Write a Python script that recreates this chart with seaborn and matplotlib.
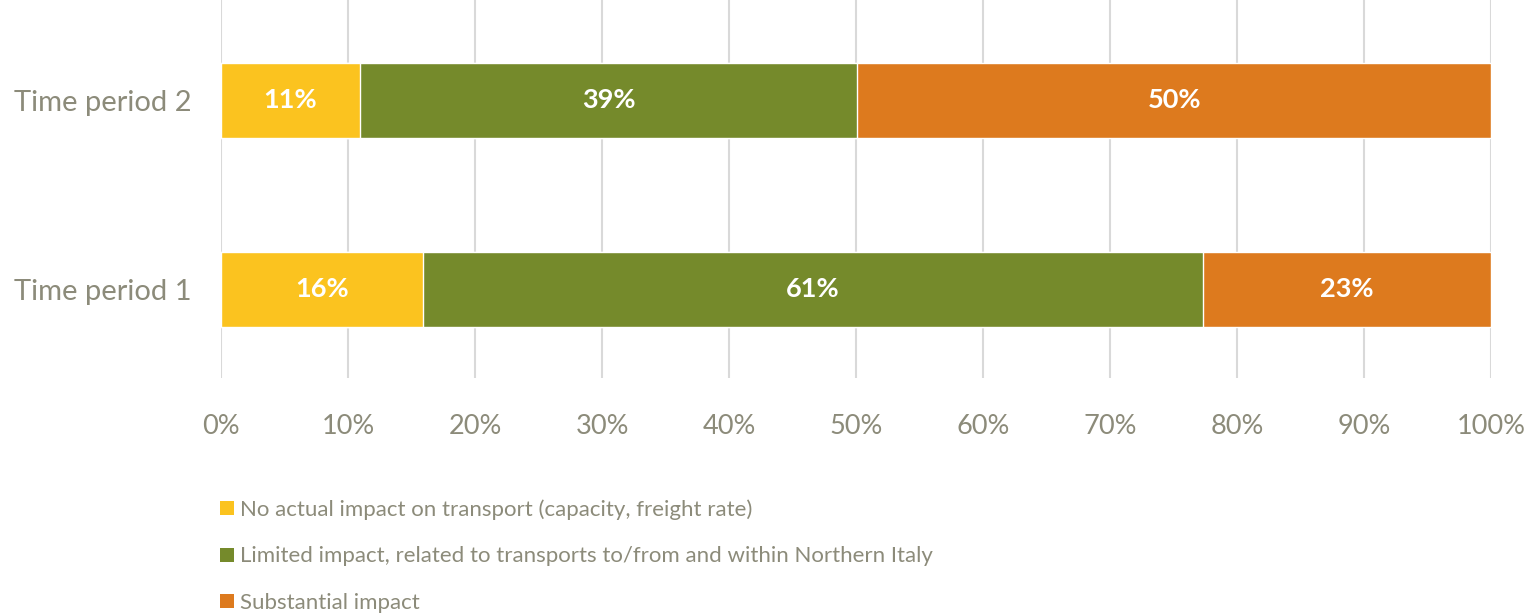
import matplotlib
matplotlib.use("Agg")
import matplotlib.pyplot as plt
from matplotlib.patches import Patch
from matplotlib.ticker import PercentFormatter
import numpy as np
import pandas as pd
import seaborn as sns

periods = ["Time period 2", "Time period 1"]
no_impact = [10.9, 15.9]
limited_impact = [39.2, 61.4]
substantial_impact = [49.9, 22.7]

series_names = [
    "No actual impact on transport (capacity, freight rate)",
    "Limited impact, related to transports to/from and within Northern Italy",
    "Substantial impact",
]
colors = ["#FBC31F", "#758A2B", "#DD7A1E"]
text_grey = "#8C8B7A"

sns.set_theme(style="white")
plt.rcParams["font.family"] = ["Lato", "DejaVu Sans"]


def main():
    df = pd.DataFrame({
        "period": periods,
        "no": no_impact,
        "limited": limited_impact,
        "substantial": substantial_impact,
    })
    # cumulative ends, drawn back to front so each segment shows
    df["c1"] = df["no"]
    df["c2"] = df["no"] + df["limited"]
    df["c3"] = df["c2"] + df["substantial"]

    fig = plt.figure(figsize=(15.32, 6.14), dpi=100)
    ax = fig.add_axes([0.1443, 0.384, 0.829, 0.616])

    for col, color in zip(["c3", "c2", "c1"], colors[::-1]):
        sns.barplot(data=df, x=col, y="period", order=periods, color=color,
                    orient="h", width=0.395, saturation=1, ax=ax, zorder=2)

    # segment labels
    for i, row in df.iterrows():
        starts = [0, row["c1"], row["c2"]]
        vals = [row["no"], row["limited"], row["substantial"]]
        for s, v in zip(starts, vals):
            ax.text(s + v / 2, i, f"{round(v):.0f}%", ha="center", va="center",
                    color="white", fontsize=19.5, fontweight="bold", zorder=3)

    ax.set_xlim(0, 100)
    ax.set_ylim(1.47, -0.53)
    ax.xaxis.set_major_locator(plt.MultipleLocator(10))
    ax.xaxis.set_major_formatter(PercentFormatter(decimals=0))
    ax.grid(axis="x", color="#D9D9D9", linewidth=1.5, zorder=0)
    ax.set_axisbelow(True)
    for sp in ax.spines.values():
        sp.set_visible(False)
    ax.set_xlabel("")
    ax.set_ylabel("")
    ax.tick_params(axis="x", colors=text_grey, labelsize=19.5, pad=26, length=0)
    ax.tick_params(axis="y", colors=text_grey, labelsize=21, pad=21, length=0)

    handles = [Patch(facecolor=c, edgecolor="none") for c in colors]
    fig.legend(handles, series_names, loc="upper left",
               bbox_to_anchor=(0.138, 0.2015), frameon=False, fontsize=16,
               labelcolor=text_grey, handlelength=0.6, handleheight=0.6,
               handletextpad=0.3, labelspacing=1.2, borderaxespad=0)

    fig.savefig("out.png", dpi=100)


if __name__ == "__main__":
    main()
